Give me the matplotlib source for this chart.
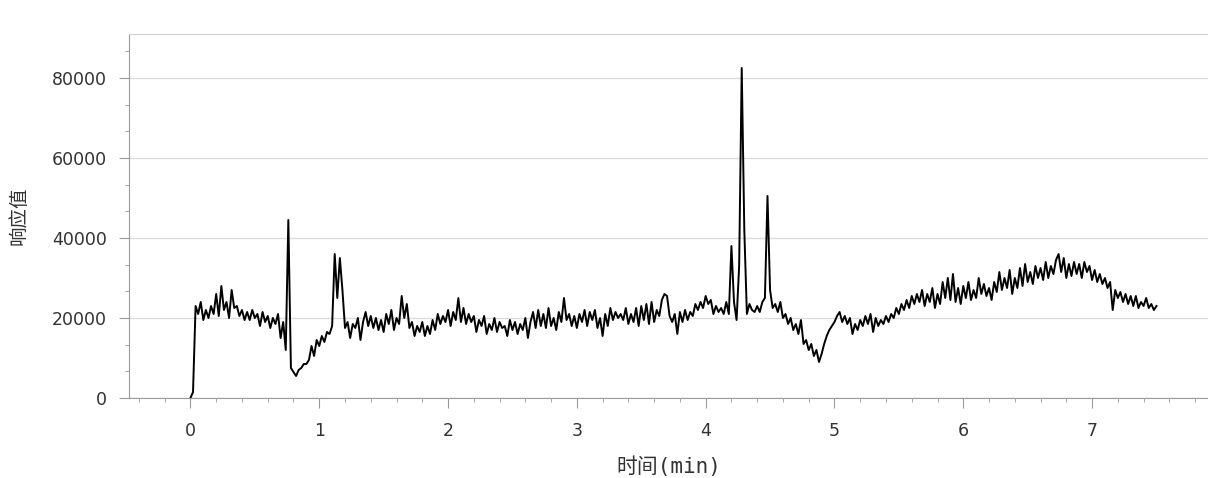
import numpy as np
import matplotlib
matplotlib.use("Agg")
import matplotlib.pyplot as plt
from matplotlib.ticker import AutoMinorLocator, MultipleLocator

# response values in thousands, one sample every 0.02 min, one row = 0.2 min
resp_k = [
    0, 1.5, 23, 21, 24, 19.5, 22, 20, 23, 21,              # 0.0
    26, 20.5, 28, 22, 24, 20, 27, 22.5, 23, 20.5,          # 0.2
    22, 19.5, 21.5, 19.5, 22, 20, 21, 18, 21.5, 19,        # 0.4
    20.5, 17.5, 20, 18.5, 21, 15, 19, 12, 44.5, 7.5,       # 0.6
    6.5, 5.5, 7, 7.5, 8.5, 8.5, 9.5, 13, 10.5, 14.5,       # 0.8
    13, 15.5, 14, 16.5, 16, 18, 36, 25, 35, 27,            # 1.0
    17.5, 19, 15, 18.5, 17.5, 20, 14.5, 19, 21.5, 18,      # 1.2
    20.5, 17.5, 20, 17, 19.5, 16.5, 21, 18.5, 22, 17,      # 1.4
    20, 18.5, 25.5, 20, 23.5, 17.5, 19, 15.5, 18, 16.5,    # 1.6
    19, 15.5, 18, 16, 19.5, 17, 21, 18.5, 20.5, 19,        # 1.8
    22, 18, 21.5, 19.5, 25, 19, 22.5, 18.5, 21, 19,        # 2.0
    20.5, 16.5, 19.5, 18, 20.5, 16, 18.5, 17, 20, 16.5,    # 2.2
    19, 17.5, 18, 15.5, 19.5, 17, 19, 16, 18.5, 17,        # 2.4
    20, 15, 19, 21.5, 17.5, 22, 18, 21, 17.5, 22.5,        # 2.6
    18, 20, 17, 21.5, 19, 25, 19.5, 21, 18, 20.5,          # 2.8
    17.5, 21, 19, 22, 18, 21.5, 19.5, 22, 17.5, 20,        # 3.0
    15.5, 21, 18, 22.5, 19.5, 21.5, 20, 21, 19.5, 22.5,    # 3.2
    18.5, 21, 19, 22.5, 18, 23, 19.5, 23.5, 18.5, 24,      # 3.4
    19, 22, 20.5, 24.5, 26, 25.5, 20.5, 19, 21, 16,        # 3.6
    21.5, 19, 22, 19.5, 21.5, 20.5, 23.5, 22, 24, 22.5,    # 3.8
    25.5, 23.5, 24.5, 21, 23, 21.5, 22.5, 21, 24, 21,      # 4.0
    38, 24, 19.5, 33, 82.5, 42, 21, 23.5, 22, 21.5,        # 4.2
    23, 21.5, 24, 25, 50.5, 27, 22.5, 23.5, 21.5, 24,      # 4.4
    20, 21, 18.5, 20, 17, 18.5, 16, 19.5, 13.5, 14.5,      # 4.6
    12, 13.5, 10.5, 12, 9, 11, 13.5, 15.5, 17, 18,         # 4.8
    19, 20.5, 21.5, 19, 20.5, 18.5, 20, 16, 18.5, 17,      # 5.0
    19.5, 18, 20.5, 18.5, 21, 16.5, 20, 18, 19.5, 18.5,    # 5.2
    20.5, 19, 21, 20, 22.5, 21, 23.5, 22, 24.5, 22.5,      # 5.4
    25.5, 23.5, 26, 24, 27, 23, 26, 24, 27.5, 22.5,        # 5.6
    26, 23.5, 29, 25, 30, 24.5, 31, 24, 27.5, 23.5,        # 5.8
    28, 25, 29, 24.5, 27, 25, 30, 26, 28.5, 25.5,          # 6.0
    27.5, 24.5, 29, 26.5, 31.5, 27, 30, 27.5, 32, 26,      # 6.2
    30, 27.5, 32.5, 28, 33.5, 29, 31.5, 28.5, 33, 30,      # 6.4
    32.5, 29.5, 34, 30, 33, 31, 34.5, 36, 31.5, 35,        # 6.6
    30, 33.5, 30.5, 34, 31, 33.5, 30, 34, 31.5, 33,        # 6.8
    29.5, 32, 29, 31, 28.5, 30, 27.5, 29, 22, 27,          # 7.0
    25, 26.5, 24, 26, 23.5, 25.5, 23, 25.5, 22.5, 24,      # 7.2
    23, 25, 22.5, 23.5, 22, 23,                            # 7.4
]
step_min = 0.02

time_min = np.arange(len(resp_k)) * step_min
resp = np.array(resp_k) * 1000

fig = plt.figure(figsize=(12.08, 4.78), dpi=100)
ax = fig.add_axes([129 / 1208, 80 / 478, 1 - 129 / 1208, 364 / 478])

ax.plot(time_min, resp, color="black", linewidth=1.4)

ax.set_xlim(-0.477, 7.90)
ax.set_ylim(0, 91000)
ax.xaxis.set_major_locator(MultipleLocator(1))
ax.xaxis.set_minor_locator(AutoMinorLocator(5))
ax.yaxis.set_major_locator(MultipleLocator(20000))
ax.yaxis.set_minor_locator(AutoMinorLocator(3))

ax.grid(axis="y", which="major", color="#dcdcdc", linewidth=1)
ax.set_axisbelow(True)

for side in ("left", "bottom"):
    ax.spines[side].set_color("#9a9a9a")
ax.spines["top"].set_color("#d0d0d0")
ax.spines["right"].set_visible(False)

ax.tick_params(which="major", length=7, color="#9a9a9a", labelcolor="#333333",
               labelsize=12.5)
ax.tick_params(which="minor", length=3, color="#9a9a9a")
ax.tick_params(axis="x", pad=10)
ax.tick_params(axis="y", pad=9)

ax.set_xlabel("时间(min)", family=["DejaVu Sans Mono", "Noto Sans CJK SC"],
              fontsize=15, color="#333333", labelpad=12)
ax.set_ylabel("响应值", family=["Noto Sans CJK SC", "DejaVu Sans"],
              fontsize=14, color="#333333", labelpad=16)

fig.savefig("out.png", dpi=100)
